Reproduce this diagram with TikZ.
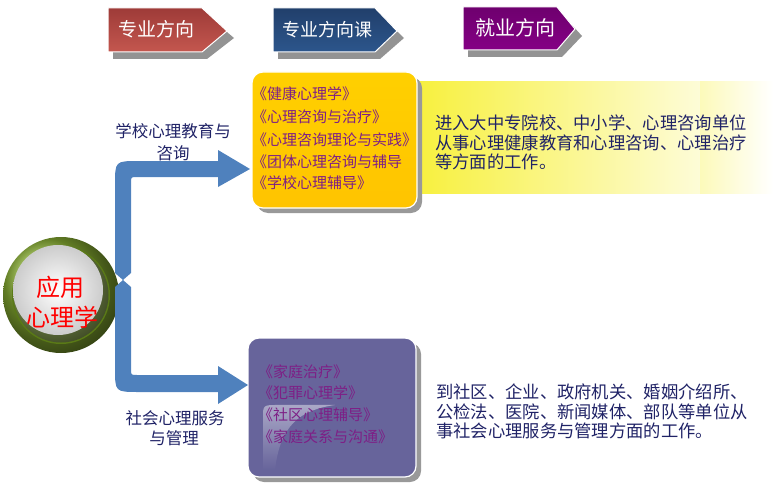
\documentclass[tikz,border=0pt]{standalone}
\usepackage{fontspec}
\newfontfamily\cjk{Noto Sans CJK SC}
\usetikzlibrary{fadings}
\definecolor{arrowblue}{HTML}{4F81BD}
\definecolor{navy}{HTML}{1F2266}
\definecolor{itempurple}{HTML}{7E1F86}
\definecolor{boxpurple}{HTML}{67649B}
\definecolor{ringgreen}{HTML}{8BB233}
\definecolor{ringdark}{HTML}{5A7A16}
\definecolor{redtop}{HTML}{9E3B38}
\definecolor{redbot}{HTML}{C4574F}
\definecolor{bluetop}{HTML}{213F6B}
\definecolor{bluebot}{HTML}{2C568C}
\definecolor{purptop}{HTML}{6E006E}
\definecolor{purpbot}{HTML}{850085}
\definecolor{boxyellow}{HTML}{FFC400}
\definecolor{bandyellow}{HTML}{F7F03A}
\tikzset{
  banner/.style={draw=white, line width=1pt},
  bshadow/.style={fill=gray!85},
  btext/.style={font=\cjk, text=white, anchor=base, inner sep=0pt},
  item/.style={font=\cjk\fontsize{15}{17}\selectfont, text=itempurple, anchor=base west, inner sep=0pt},
  desc/.style={font=\cjk\fontsize{17.3}{19}\selectfont, text=navy, anchor=base west, inner sep=0pt},
  lab/.style={font=\cjk\fontsize{16.5}{18}\selectfont, text=navy, anchor=base, inner sep=0pt},
  core/.style={font=\cjk\fontsize{24}{26}\selectfont, text=red, anchor=base, inner sep=0pt}
}
\begin{document}
\begin{tikzpicture}[x=1pt,y=-1pt]
\useasboundingbox (0,0) rectangle (773,500);
% ---------- banners ----------
\fill[bshadow] (113,15) -- (207,15) -- (234,38) -- (207,59) -- (113,59) -- cycle;
\shade[top color=redtop, bottom color=redbot, banner] (108,8) -- (202,8) -- (227,31) -- (202,52) -- (108,52) -- cycle;
\node[btext, font=\cjk\fontsize{19}{20}\selectfont] (b1) at (156,37) {专业方向};

\fill[bshadow] (278,15) -- (380,15) -- (404,38) -- (380,59) -- (278,59) -- cycle;
\shade[top color=bluetop, bottom color=bluebot, banner] (273,8) -- (375,8) -- (397,31) -- (375,52) -- (273,52) -- cycle;
\node[btext, font=\cjk\fontsize{18}{20}\selectfont] (b2) at (327,37) {专业方向课};

\fill[bshadow] (468,14) -- (562,14) -- (582,36) -- (562,57) -- (468,57) -- cycle;
\shade[top color=purptop, bottom color=purpbot, banner] (463,7) -- (557,7) -- (575,29) -- (557,50) -- (463,50) -- cycle;
\node[btext, font=\cjk\fontsize{20}{22}\selectfont] (b3) at (515,36) {就业方向};

% ---------- yellow band ----------
\shade[left color=bandyellow, right color=white] (410,82) rectangle (773,193);
\fill[white] (766,82) rectangle (773,193);
\shade[left color=bandyellow!35!white, right color=white] (700,82) rectangle (773,193);

% ---------- upper course box ----------
\fill[gray!80, rounded corners=11pt] (257,77) rectangle (422,213);
\shade[top color=boxyellow!80!yellow, bottom color=boxyellow, draw=white, line width=1.2pt, rounded corners=11pt] (252,72) rectangle (417,208);
\node[item] (u1) at (252,100) {《健康心理学》};
\node[item] (u2) at (252,123) {《心理咨询与治疗》};
\node[item] (u3) at (252,145) {《心理咨询理论与实践》};
\node[item] (u4) at (252,167) {《团体心理咨询与辅导};
\node[item] (u5) at (252,188) {《学校心理辅导》};

% ---------- lower course box ----------
\fill[gray!80, rounded corners=11pt] (253,343) rectangle (421,482);
\fill[boxpurple, draw=white, line width=1.2pt, rounded corners=11pt] (248,338) rectangle (416,477);
\fill[white!55!boxpurple, path fading=south, opacity=0.8] (263,470) -- (263,418) .. controls (263,405) .. (278,405) -- (335,405) .. controls (300,410) and (280,425) .. (275,470) -- cycle;
\node[item] (l1) at (258,377) {《家庭治疗》};
\node[item] (l2) at (258,398) {《犯罪心理学》};
\node[item] (l3) at (258,420) {《社区心理辅导》};
\node[item] (l4) at (258,442) {《家庭关系与沟通》};

% ---------- descriptions ----------
\node[desc] (d1) at (435,129) {进入大中专院校、中小学、心理咨询单位};
\node[desc] (d2) at (435,149) {从事心理健康教育和心理咨询、心理治疗};
\node[desc] (d3) at (435,168) {等方面的工作。};
\node[desc] (e1) at (436,398) {到社区、企业、政府机关、婚姻介绍所、};
\node[desc] (e2) at (436,418) {公检法、医院、新闻媒体、部队等单位从};
\node[desc] (e3) at (436,437) {事社会心理服务与管理方面的工作。};

% ---------- central circle ----------
\shade[ball color=ringgreen] (61,295) circle (58);
\fill[ringdark] (61,295) circle (49);
\shade[ball color=ringgreen!75!white] (61,295) circle (47.5);
\shade[inner color=white, outer color=gray!40] (58,290) circle (45);
\coordinate (core) at (61,295);
\node[core] (c1) at (60,296) {应用};
\node[core] (c2) at (62,326) {心理学};

% ---------- arrows ----------
\fill[arrowblue] (123,280) -- (115,273) -- (115,185) .. controls (115,161) .. (139,161)
  -- (218,161) -- (218,150) -- (250,169) -- (218,187) -- (218,177)
  -- (137,177) .. controls (131,177) .. (131,183) -- (131,273) -- cycle;
\fill[arrowblue] (123,280) -- (131,287) -- (131,369) .. controls (131,375) .. (137,375)
  -- (218,375) -- (218,366) -- (248,385) -- (218,404) -- (218,392)
  -- (139,392) .. controls (115,392) .. (115,368) -- (115,287) -- cycle;
\coordinate (up) at (250,169);
\coordinate (down) at (248,385);

% ---------- branch labels ----------
\node[lab] (t1) at (173,138) {学校心理教育与};
\node[lab] (t2) at (173,159) {咨询};
\node[lab] (s1) at (175,424) {社会心理服务};
\node[lab] (s2) at (174,444) {与管理};
\end{tikzpicture}
\end{document}
